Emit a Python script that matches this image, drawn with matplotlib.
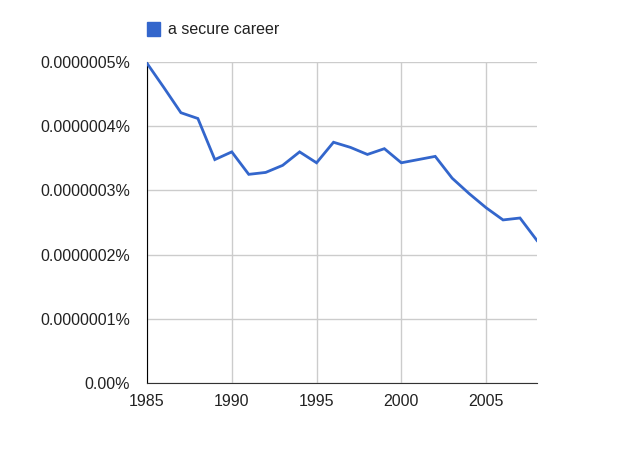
import matplotlib
matplotlib.use("Agg")
import matplotlib.pyplot as plt
from matplotlib.patches import Rectangle

# ==== data ====
years = list(range(1985, 2009))
values = [4.98, 4.60, 4.21, 4.12, 3.48, 3.60, 3.25, 3.28, 3.39, 3.60, 3.43, 3.75,
          3.67, 3.56, 3.65, 3.43, 3.48, 3.53, 3.19, 2.95, 2.73, 2.54, 2.57, 2.22]
values = [v * 1e-7 for v in values]
series_name = "a secure career"
y_ticks = [0, 1e-7, 2e-7, 3e-7, 4e-7, 5e-7]
y_labels = ["0.00%", "0.0000001%", "0.0000002%", "0.0000003%", "0.0000004%", "0.0000005%"]
x_ticks = [1985, 1990, 1995, 2000, 2005]

plt.rcParams['font.family'] = ['Liberation Sans', 'DejaVu Sans']
line_color = '#3366cc'
grid_color = '#cccccc'

fig = plt.figure(figsize=(6.4, 4.58), dpi=100)
ax = fig.add_axes([0.2297, 0.1638, 0.839 - 0.2297, 0.8646 - 0.1638])

ax.plot(years, values, color=line_color, lw=2, solid_joinstyle='miter', zorder=3)
ax.set_xlim(1985, 2008)
ax.set_ylim(0, 5e-7)

ax.set_yticks(y_ticks)
ax.set_yticklabels(y_labels)
ax.set_xticks(x_ticks)
ax.grid(True, color=grid_color, lw=1)
ax.tick_params(length=0, labelsize=11.5, colors='#222222')
ax.tick_params(axis='y', pad=12)
ax.tick_params(axis='x', pad=8)

for s in ['top', 'right']:
    ax.spines[s].set_visible(False)
ax.spines['left'].set_color('#000000')
ax.spines['bottom'].set_color('#333333')

# legend
fig.patches.append(Rectangle((147 / 640, 1 - 36 / 458), 13 / 640, 14 / 458,
                             transform=fig.transFigure, color=line_color))
fig.text(168 / 640, 1 - 29 / 458, series_name, fontsize=11.5, va='center', ha='left', color='#222222')

fig.savefig("out.png", dpi=100)
